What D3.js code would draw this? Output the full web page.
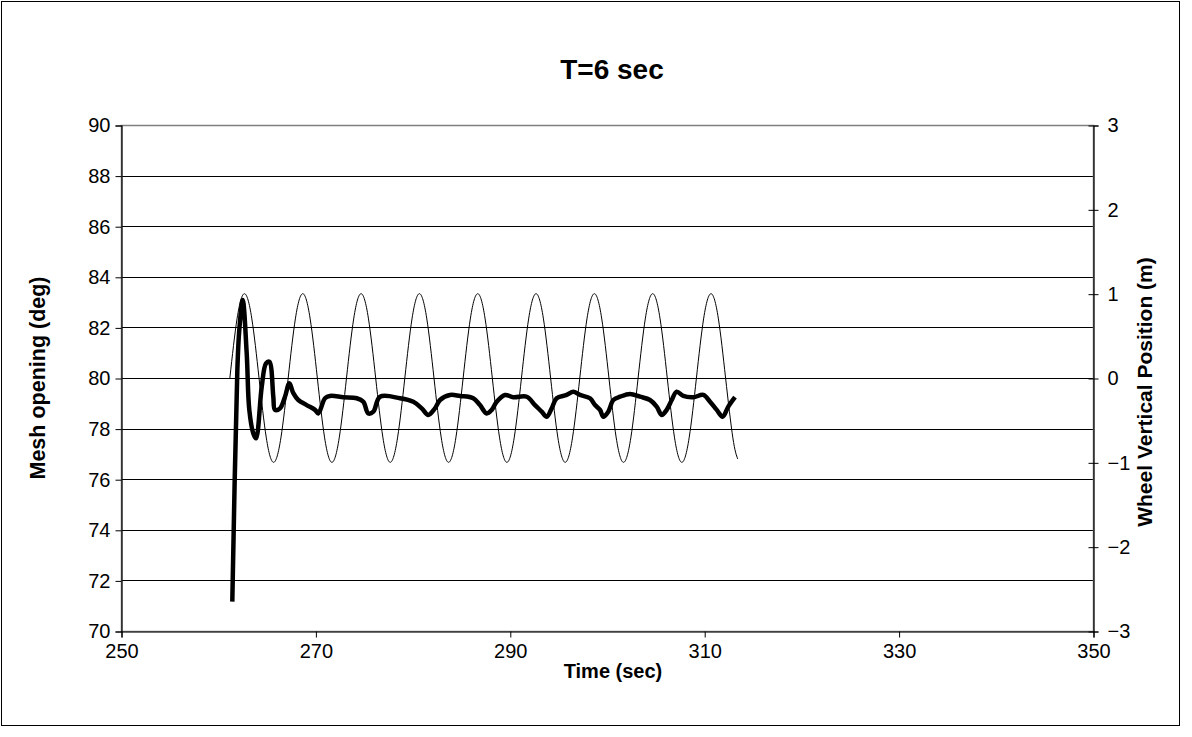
<!DOCTYPE html>
<html>
<head>
<meta charset="utf-8">
<script src="https://cdn.jsdelivr.net/npm/d3@7"></script>
<style>
  html, body { margin: 0; padding: 0; background: #fff; }
  svg { display: block; font-family: "Liberation Sans", Arial, sans-serif; }
</style>
</head>
<body>
<svg id="chart" width="1192" height="737"></svg>
<script>
// ---------------- DATA ----------------
const chartTitle = "T=6 sec";
const xTitle = "Time (sec)";
const yLeftTitle = "Mesh opening (deg)";
const yRightTitle = "Wheel Vertical Position (m)";

const xTicks = [250, 270, 290, 310, 330, 350];
const yLeftTicks = [70, 72, 74, 76, 78, 80, 82, 84, 86, 88, 90];
const yRightTicks = [-3, -2, -1, 0, 1, 2, 3];

// Mesh opening (deg) vs time (sec) — thick line, left axis
const meshTime = [
  261.45, 261.97, 262.17, 262.52, 262.93, 263.20, 263.61, 263.89, 264.48, 264.92,
  265.26, 265.67, 265.84, 266.36, 266.87, 267.32, 267.73, 268.24, 269.10, 269.96,
  270.30, 270.99, 271.50, 272.87, 274.25, 274.93, 275.44, 275.96, 276.65, 278.70,
  280.07, 280.94, 281.61, 282.30, 282.82, 283.85, 284.88, 286.24, 286.93, 287.62,
  288.14, 288.65, 289.51, 290.36, 291.74, 292.59, 293.28, 293.80, 294.31, 294.82,
  295.85, 296.53, 297.22, 298.25, 298.77, 299.28, 299.62, 300.13, 300.65, 301.34,
  302.37, 303.40, 304.42, 305.11, 305.63, 306.14, 306.66, 307.17, 307.85, 308.88,
  309.91, 310.60, 311.29, 311.90, 312.48, 313.17
];
const meshDeg = [
  71.16, 80.32, 81.90, 83.08, 80.99, 78.74, 77.81, 77.62, 79.66, 80.58,
  80.64, 79.26, 78.74, 78.80, 79.26, 79.79, 79.40, 79.13, 78.93, 78.74,
  78.60, 79.20, 79.29, 79.24, 79.20, 79.06, 78.60, 78.67, 79.26, 79.20,
  79.06, 78.80, 78.54, 78.80, 79.13, 79.33, 79.29, 79.20, 78.93, 78.60,
  78.74, 79.06, 79.33, 79.24, 79.26, 78.93, 78.67, 78.47, 78.80, 79.20,
  79.33, 79.46, 79.33, 79.20, 78.93, 78.74, 78.47, 78.67, 79.13, 79.26,
  79.37, 79.26, 79.13, 78.87, 78.54, 78.74, 79.13, 79.46, 79.29, 79.24,
  79.33, 79.06, 78.74, 78.47, 78.87, 79.24
];

// Wheel vertical position (m) vs time (sec) — thin line, right axis
const wheelTime = [
  261.20, 261.95, 262.70, 263.45, 264.20, 264.95, 265.70, 266.45, 267.20, 267.95,
  268.70, 269.45, 270.20, 270.95, 271.70, 272.45, 273.20, 273.95, 274.70, 275.45,
  276.20, 276.95, 277.70, 278.45, 279.20, 279.95, 280.70, 281.45, 282.20, 282.95,
  283.70, 284.45, 285.20, 285.95, 286.70, 287.45, 288.20, 288.95, 289.70, 290.45,
  291.20, 291.95, 292.70, 293.45, 294.20, 294.95, 295.70, 296.45, 297.20, 297.95,
  298.70, 299.45, 300.20, 300.95, 301.70, 302.45, 303.20, 303.95, 304.70, 305.45,
  306.20, 306.95, 307.70, 308.45, 309.20, 309.95, 310.70, 311.45, 312.20, 312.95,
  313.45
];
const wheelPos = [
  0, 0.71, 1, 0.71, 0, -0.71, -1, -0.71,
  0, 0.71, 1, 0.71, 0, -0.71, -1, -0.71,
  0, 0.71, 1, 0.71, 0, -0.71, -1, -0.71,
  0, 0.71, 1, 0.71, 0, -0.71, -1, -0.71,
  0, 0.71, 1, 0.71, 0, -0.71, -1, -0.71,
  0, 0.71, 1, 0.71, 0, -0.71, -1, -0.71,
  0, 0.71, 1, 0.71, 0, -0.71, -1, -0.71,
  0, 0.71, 1, 0.71, 0, -0.71, -1, -0.71,
  0, 0.71, 1, 0.71, 0, -0.71, -0.96
];

// ---------------- CHART ----------------
const svg = d3.select("#chart");
const plot = { left: 121, right: 1093, top: 125, bottom: 631 };

const x = d3.scaleLinear().domain([250, 350]).range([plot.left, plot.right]);
const yL = d3.scaleLinear().domain([70, 90]).range([plot.bottom, plot.top]);
const yR = d3.scaleLinear().domain([-3, 3]).range([plot.bottom, plot.top]);

// outer frame
svg.append("rect")
  .attr("x", 1.5).attr("y", 1.5)
  .attr("width", 1178).attr("height", 724)
  .attr("fill", "#fff").attr("stroke", "#000").attr("stroke-width", 1);

// gridlines
svg.append("g")
  .selectAll("line")
  .data(yLeftTicks)
  .join("line")
  .attr("x1", plot.left).attr("x2", plot.right)
  .attr("y1", d => Math.round(yL(d)) + 0.5)
  .attr("y2", d => Math.round(yL(d)) + 0.5)
  .attr("stroke", "#000").attr("stroke-width", 1);

// plot area border
svg.append("rect")
  .attr("x", plot.left + 0.5).attr("y", plot.top + 0.5)
  .attr("width", plot.right - plot.left).attr("height", plot.bottom - plot.top)
  .attr("fill", "none").attr("stroke", "#808080").attr("stroke-width", 1.5);

// axes
const fontSize = "20px";
const gL = svg.append("g")
  .attr("transform", `translate(${plot.left + 0.5},0.5)`)
  .call(d3.axisLeft(yL).tickValues(yLeftTicks).tickSize(6).tickPadding(5).tickFormat(d3.format("d")));
const gR = svg.append("g")
  .attr("transform", `translate(${plot.right + 0.5},0.5)`)
  .call(d3.axisRight(yR).tickValues(yRightTicks).tickSize(5).tickPadding(9).tickFormat(d3.format("d")));
gR.selectAll(".tick line").attr("x1", -5).attr("x2", 5);
const gX = svg.append("g")
  .attr("transform", `translate(0.5,${plot.bottom + 0.5})`)
  .call(d3.axisBottom(x).tickValues(xTicks).tickSize(6).tickPadding(6).tickFormat(d3.format("d")));

[gL, gR, gX].forEach(g => {
  g.select(".domain").attr("stroke", "#000").attr("stroke-width", 1.2);
  g.selectAll(".tick line").attr("stroke", "#000");
  g.selectAll(".tick text")
    .attr("fill", "#000")
    .style("font-family", "'Liberation Sans', Arial, sans-serif")
    .style("font-size", fontSize);
});

// series
const wheelData = wheelTime.map((t, i) => [t, wheelPos[i]]);
const meshData = meshTime.map((t, i) => [t, meshDeg[i]]);

svg.append("path")
  .datum(wheelData)
  .attr("fill", "none").attr("stroke", "#000").attr("stroke-width", 1)
  .attr("d", d3.line().x(d => x(d[0])).y(d => yR(d[1])).curve(d3.curveNatural));

svg.append("path")
  .datum(meshData)
  .attr("fill", "none").attr("stroke", "#000").attr("stroke-width", 4.5)
  .attr("stroke-linejoin", "round").attr("stroke-linecap", "butt")
  .attr("d", d3.line().x(d => x(d[0])).y(d => yL(d[1])).curve(d3.curveCatmullRom.alpha(0.5)));

// titles
svg.append("text")
  .attr("x", 612).attr("y", 79)
  .attr("text-anchor", "middle")
  .style("font-size", "28px").style("font-weight", "bold")
  .text(chartTitle);

svg.append("text")
  .attr("x", 613).attr("y", 678)
  .attr("text-anchor", "middle")
  .style("font-size", "20px").style("font-weight", "bold")
  .text(xTitle);

svg.append("text")
  .attr("transform", `translate(45,378) rotate(-90)`)
  .attr("text-anchor", "middle")
  .style("font-size", "21.5px").style("font-weight", "bold")
  .text(yLeftTitle);

svg.append("text")
  .attr("transform", `translate(1152,392) rotate(-90)`)
  .attr("text-anchor", "middle")
  .style("font-size", "21px").style("font-weight", "bold")
  .text(yRightTitle);
</script>
</body>
</html>
